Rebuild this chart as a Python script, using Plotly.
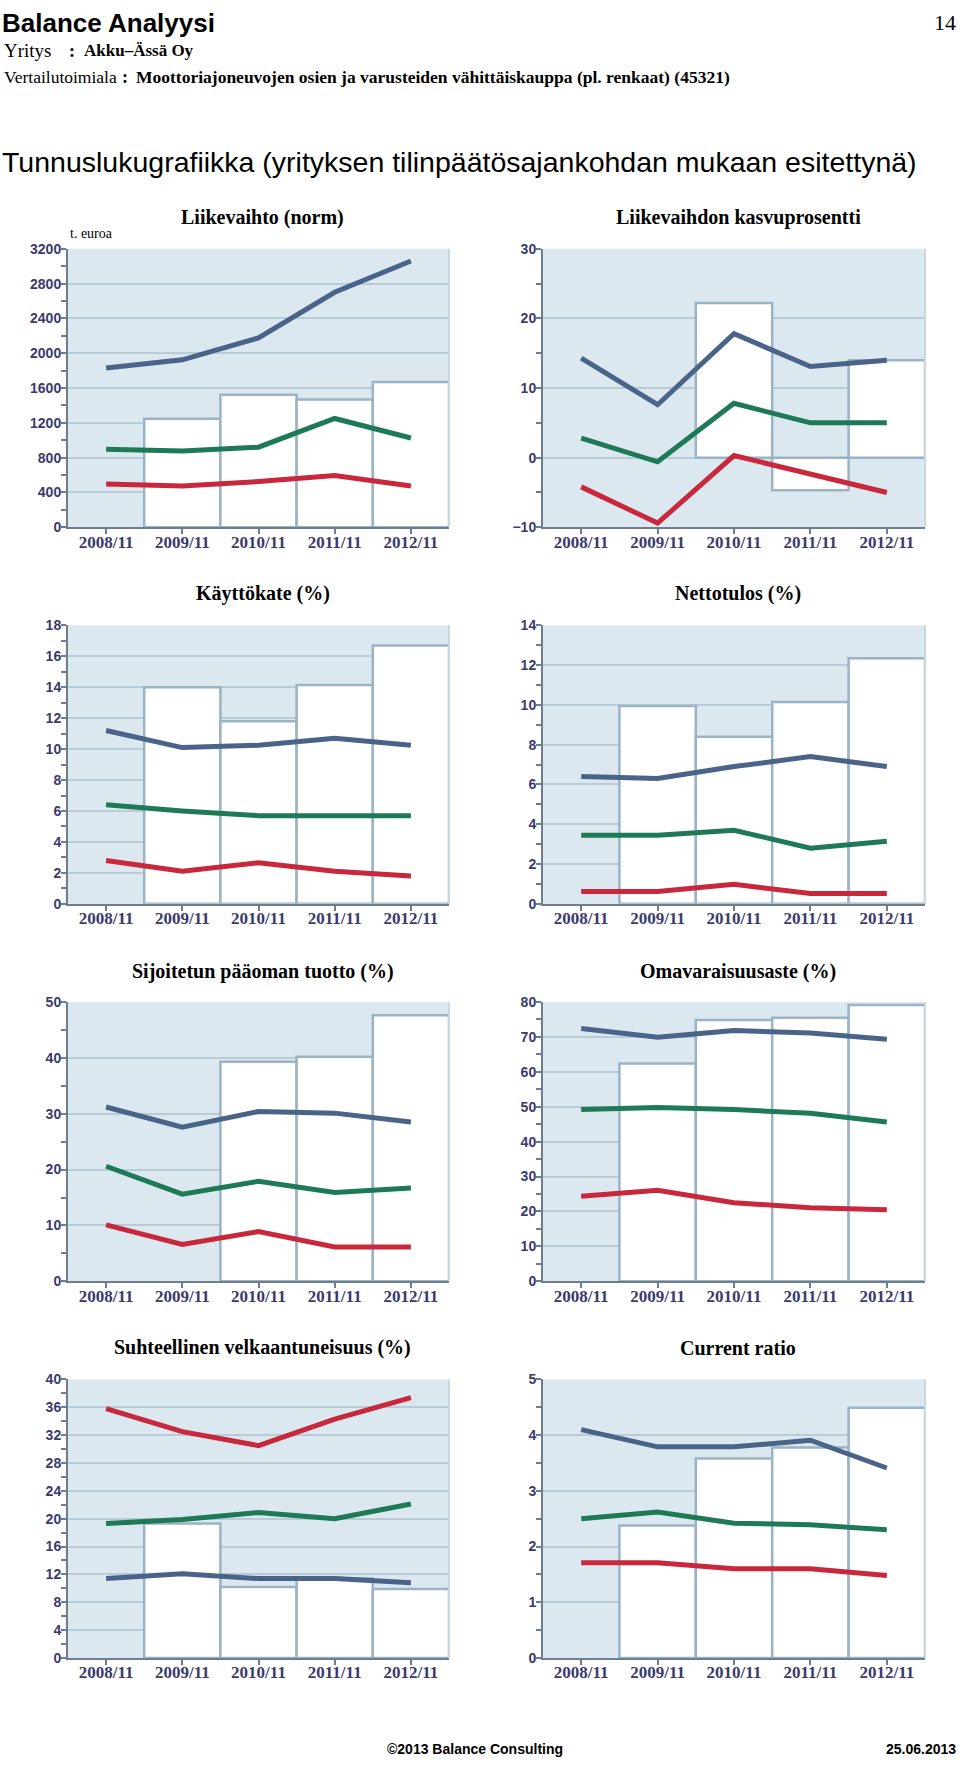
import plotly.graph_objects as go

W, H = 960, 1767

categories = ["2008/11", "2009/11", "2010/11", "2011/11", "2012/11"]

# --- Liikevaihto (norm), t. euroa
lv_company = [None, 1246, 1522, 1469, 1670]
lv_upper = [1830, 1924, 2177, 2700, 3060]
lv_median = [897, 875, 920, 1250, 1026]
lv_lower = [496, 473, 526, 595, 473]

# --- Liikevaihdon kasvuprosentti
kp_company = [None, None, 22.2, -4.7, 14.0]
kp_upper = [14.3, 7.6, 17.8, 13.1, 14.0]
kp_median = [2.8, -0.6, 7.8, 5.0, 5.0]
kp_lower = [-4.2, -9.4, 0.3, -2.3, -5.0]

# --- Käyttökate (%)
kk_company = [None, 14.0, 11.8, 14.15, 16.7]
kk_upper = [11.2, 10.1, 10.25, 10.7, 10.25]
kk_median = [6.4, 6.0, 5.7, 5.7, 5.7]
kk_lower = [2.8, 2.1, 2.65, 2.1, 1.8]

# --- Nettotulos (%)
nt_company = [None, 9.95, 8.4, 10.15, 12.35]
nt_upper = [6.4, 6.3, 6.9, 7.4, 6.9]
nt_median = [3.45, 3.45, 3.7, 2.8, 3.15]
nt_lower = [0.62, 0.62, 0.98, 0.52, 0.52]

# --- Sijoitetun pääoman tuotto (%)
sp_company = [None, None, 39.3, 40.2, 47.6]
sp_upper = [31.2, 27.6, 30.4, 30.1, 28.5]
sp_median = [20.6, 15.6, 17.9, 15.9, 16.7]
sp_lower = [10.1, 6.6, 8.9, 6.15, 6.15]

# --- Omavaraisuusaste (%)
oa_company = [None, 62.4, 74.8, 75.5, 79.1]
oa_upper = [72.4, 69.9, 71.8, 71.1, 69.3]
oa_median = [49.2, 49.8, 49.2, 48.1, 45.6]
oa_lower = [24.4, 26.1, 22.5, 21.1, 20.5]

# --- Suhteellinen velkaantuneisuus (%)
sv_company = [None, 19.3, 10.2, 11.4, 9.9]
sv_upper = [11.4, 12.1, 11.4, 11.4, 10.8]
sv_median = [19.3, 19.9, 20.9, 20.0, 22.1]
sv_lower = [35.8, 32.5, 30.5, 34.3, 37.4]

# --- Current ratio
cr_company = [None, 2.38, 3.58, 3.78, 4.49]
cr_upper = [4.1, 3.79, 3.79, 3.91, 3.41]
cr_median = [2.5, 2.62, 2.42, 2.39, 2.3]
cr_lower = [1.71, 1.71, 1.6, 1.6, 1.48]

charts = [
    ("Liikevaihto (norm)", lv_company, lv_upper, lv_median, lv_lower, (0, 3200), 400, 200),
    ("Liikevaihdon kasvuprosentti", kp_company, kp_upper, kp_median, kp_lower, (-10, 30), 10, 5),
    ("Käyttökate (%)", kk_company, kk_upper, kk_median, kk_lower, (0, 18), 2, 1),
    ("Nettotulos (%)", nt_company, nt_upper, nt_median, nt_lower, (0, 14), 2, 1),
    ("Sijoitetun pääoman tuotto (%)", sp_company, sp_upper, sp_median, sp_lower, (0, 50), 10, 5),
    ("Omavaraisuusaste (%)", oa_company, oa_upper, oa_median, oa_lower, (0, 80), 10, 5),
    ("Suhteellinen velkaantuneisuus (%)", sv_company, sv_upper, sv_median, sv_lower, (0, 40), 4, 2),
    ("Current ratio", cr_company, cr_upper, cr_median, cr_lower, (0, 5), 1, 0.5),
]

BG = "#dce8ef"
GRID = "#b9cbd6"
AXIS = "#6e7e8e"
BAR_LINE = "#9ab3c5"
NAVY = "#3b3a6c"
BLUE = "#4a6389"
GREEN = "#1e7a56"
RED = "#c9283c"

col_x = [(68, 449), (543, 925)]
row_y = [(243, 524), (623, 904), (1003, 1285), (1384, 1665)]
title_y = [211, 591, 972, 1352]


def px(x):
    return x / W


def py(y):
    return 1 - y / H


fig = go.Figure()
annotations = []
shapes = []

for i, (title, comp, up, med, low, rng, dt, mdt) in enumerate(charts):
    r, c = divmod(i, 2)
    n = i + 1
    xa = "x" if n == 1 else f"x{n}"
    ya = "y" if n == 1 else f"y{n}"
    fig.add_trace(go.Bar(
        x=categories, y=comp, width=1, xaxis=xa, yaxis=ya,
        marker=dict(color="white", line=dict(color=BAR_LINE, width=2.5)),
        showlegend=False, hoverinfo="skip"))
    for vals, col in ((up, BLUE), (med, GREEN), (low, RED)):
        fig.add_trace(go.Scatter(
            x=categories, y=vals, mode="lines", xaxis=xa, yaxis=ya,
            line=dict(color=col, width=5), showlegend=False))
    x0, x1 = col_x[c]
    y0, y1 = row_y[r]
    xkey = "xaxis" if n == 1 else f"xaxis{n}"
    ykey = "yaxis" if n == 1 else f"yaxis{n}"
    fig.update_layout({
        xkey: dict(
            domain=[px(x0), px(x1)], anchor=ya, type="category",
            range=[-0.5, 4.5], showgrid=False, showline=True,
            linecolor=AXIS, linewidth=2, ticks="outside", ticklen=5,
            tickcolor=AXIS, tickwidth=1.5, ticklabelstandoff=-7,
            tickfont=dict(family="Liberation Serif", size=17, color=NAVY, weight="bold"),
            fixedrange=True),
        ykey: dict(
            domain=[py(y1), py(y0)], anchor=xa, range=list(rng),
            tick0=rng[0], dtick=dt, showgrid=True, gridcolor=GRID, gridwidth=1.5,
            zeroline=False, showline=True, linecolor=AXIS, linewidth=2,
            ticks="outside", ticklen=5, tickcolor=AXIS, tickwidth=1.5,
            minor=dict(dtick=mdt, tick0=rng[0], ticks="outside", ticklen=5,
                       tickcolor=AXIS, tickwidth=1.5, showgrid=False),
            tickfont=dict(family="Liberation Sans", size=14, color=NAVY, weight="bold"),
            ticklabelstandoff=-3, fixedrange=True),
    })
    shapes.append(dict(type="line", xref=f"{xa} domain", yref=f"{ya} domain",
                       x0=1, x1=1, y0=0, y1=1, line=dict(color="#c9d8e1", width=2)))
    annotations.append(dict(
        text=f"<b>{title}</b>", x=px((x0 + x1) / 2 + 4), y=py(title_y[r]),
        xref="paper", yref="paper", xanchor="center", yanchor="middle",
        showarrow=False, font=dict(family="Liberation Serif", size=20, color="black")))

annotations.append(dict(text="t. euroa", x=px(68), y=py(228), xref="paper", yref="paper",
                        xanchor="left", yanchor="middle", showarrow=False,
                        font=dict(family="Liberation Serif", size=14, color="black")))

# header / footer
header = [
    dict(text="<b>Balance Analyysi</b>", x=0, y=py(15), xanchor="left",
         font=dict(family="Liberation Sans", size=26, color="black")),
    dict(text="14", x=px(958), y=py(15), xanchor="right",
         font=dict(family="Liberation Serif", size=22, color="black")),
    dict(text="Yritys", x=px(2), y=py(43), xanchor="left",
         font=dict(family="Liberation Serif", size=19, color="black")),
    dict(text="<b>:</b>", x=px(72), y=py(43), xanchor="center",
         font=dict(family="Liberation Serif", size=18, color="black")),
    dict(text="<b>Akku–Ässä Oy</b>", x=px(82), y=py(43), xanchor="left",
         font=dict(family="Liberation Serif", size=17, color="black")),
    dict(text="Vertailutoimiala", x=px(2), y=py(70), xanchor="left",
         font=dict(family="Liberation Serif", size=17.5, color="black")),
    dict(text="<b>:</b>", x=px(125), y=py(70), xanchor="center",
         font=dict(family="Liberation Serif", size=18, color="black")),
    dict(text="<b>Moottoriajoneuvojen osien ja varusteiden vähittäiskauppa (pl. renkaat) (45321)</b>",
         x=px(134), y=py(70), xanchor="left",
         font=dict(family="Liberation Serif", size=17.5, color="black")),
    dict(text="Tunnuslukugrafiikka (yrityksen tilinpäätösajankohdan mukaan esitettynä)",
         x=0, y=py(155), xanchor="left",
         font=dict(family="Liberation Sans", size=28.5, color="black")),
    dict(text="<b>©2013 Balance Consulting</b>", x=px(475), y=py(1757), xanchor="center",
         font=dict(family="Liberation Sans", size=14, color="black")),
    dict(text="<b>25.06.2013</b>", x=px(958), y=py(1757), xanchor="right",
         font=dict(family="Liberation Sans", size=14, color="black")),
]
for a in header:
    a.update(xref="paper", yref="paper", yanchor="middle", showarrow=False)
annotations += header

fig.update_layout(
    width=W, height=H, margin=dict(l=0, r=0, t=0, b=0),
    paper_bgcolor="white", plot_bgcolor=BG, barmode="overlay",
    annotations=annotations, shapes=shapes, showlegend=False)

fig.write_html("out.html")
